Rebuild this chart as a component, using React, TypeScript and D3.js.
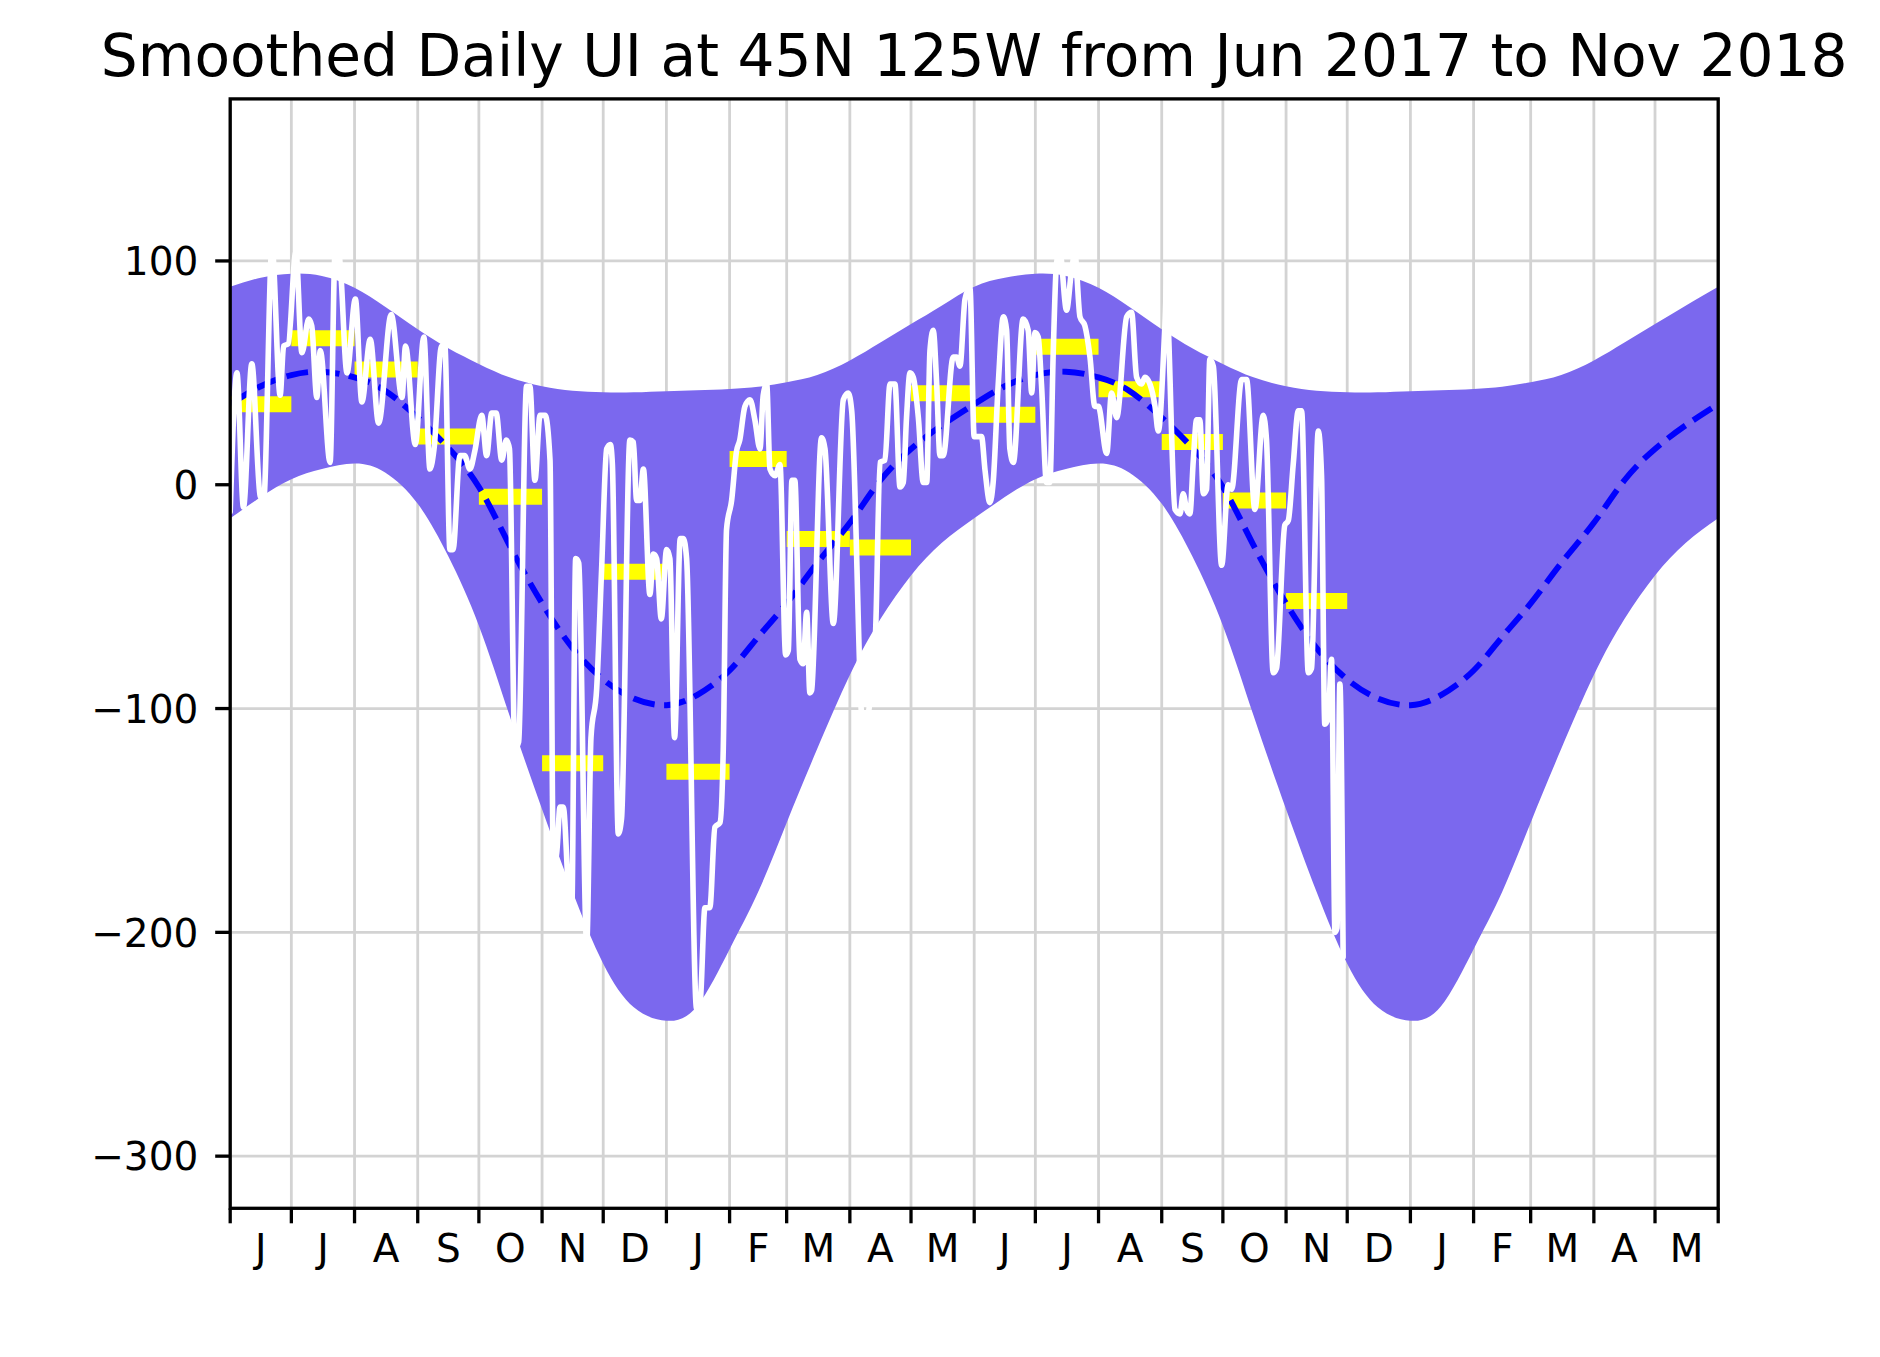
import React from 'react';
import * as d3 from 'd3';

const W = 1880;
const H = 1357;
const PLOT = { left: 230.2, right: 1718.2, top: 98.9, bottom: 1208.3 };

const TITLE = 'Smoothed Daily UI at 45N 125W from Jun 2017 to Nov 2018';
const startDate = new Date(Date.UTC(2017, 5, 1));
const endDate = new Date(Date.UTC(2019, 5, 1));
const seriesEndMonth = new Date(Date.UTC(2018, 11, 1));

// climatology, days from Jun 1
const climDays = [0, 15, 30, 45, 61, 76, 92, 107, 122, 137, 153, 168, 183, 198, 214, 229, 245, 259, 273, 288, 304, 319, 334, 349, 365];
const climUpper = [88.5, 92.5, 94.3, 93.3, 88, 79.5, 69.5, 61, 54, 48, 44, 42, 41.3, 41.3, 41.8, 42.2, 42.8, 43.8, 45.8, 49, 55.5, 63.5, 71.8, 80, 88.5];
const climMean = [36, 44, 49, 50.5, 48, 42, 30, 16.5, -1, -27, -53, -73, -87, -95.5, -98.5, -94, -83, -68, -53, -35, -17, 2, 16, 26.5, 36];
const climLower = [-15, -5.5, 2.5, 7, 9.5, 5.5, -8.5, -32, -63, -103, -145, -182, -214, -233.5, -239.5, -233, -207.5, -182, -151, -118, -85, -60, -40.5, -26, -15];

// monthly means Jun 2017 .. Nov 2018
const monthlyMeans = [36, 65.5, 51.5, 21.5, -5.4, -124.4, -38.9, -128.2, 11.5, -24.3, -28, 40.9, 31.3, 61.7, 42.7, 19.1, -7, -52];

// smoothed daily UI: [day from Jun 1 2017, value]
const uiSeries: [number, number][] = [
  [0, -12], [3.3, 50], [6.5, -10], [10.6, 54], [14.7, -5], [16.4, -7], [20.5, 106], [24.5, 40],
  [26.2, 62], [28.5, 63], [32.2, 104], [35.2, 59], [38.5, 74], [40, 71], [42.5, 39], [44.2, 60],
  [49, 10], [51.5, 104], [53.5, 102], [57.3, 50], [61.4, 83], [64.6, 37], [68.7, 65], [72.8, 27.5],
  [79, 76], [84.3, 39], [86, 62], [90.8, 18], [95, 66], [98, 7], [100, 16], [103.7, 62],
  [105.3, 62], [107.8, -29], [109.3, -29], [112.7, 13], [115, 13], [117.6, 7], [120, 15], [123.4, 31],
  [125.8, 13], [128.3, 32], [130.5, 32], [133.2, 11], [135.5, 20], [137, 16], [139.7, -118], [141.5, -115],
  [145.4, 44], [147, 44], [149.5, 2], [152, 31], [154.5, 31], [156.9, 11], [158.5, -167], [160, -166],
  [161.8, -144], [163.4, -144], [165.9, -180], [167.5, -193], [169.5, -33], [171, -35], [174.9, -205], [177, -113],
  [179.8, -91], [182.2, -38], [184.7, 16], [186.5, 18], [187.5, 9], [190.4, -156], [192, -149], [196.1, 20],
  [197.8, 19], [199.4, -7], [201, -7], [202.7, 7], [205.9, -49], [207.6, -31], [209.2, -33], [211.5, -60],
  [214.1, -29], [215.7, -33], [218, -113], [220.8, -24], [222.3, -24], [223.9, -33], [228.8, -234], [230.5, -232],
  [232.9, -189], [235.3, -189], [237.8, -153], [240.3, -151], [241.9, -118], [243.5, -20], [246, -7], [248.4, 15],
  [250, 20], [252.5, 35], [255, 38], [257.4, 29], [259.9, 16], [261.5, 40], [263.2, 45], [264.8, 7],
  [267.3, 4], [269.7, 9], [272.5, -76], [273.8, -74], [275.6, 2], [277, 2], [279.5, -78], [281.1, -80],
  [282.8, -57], [284.4, -93], [285.2, -92], [290.1, 21], [291.8, 16], [295.9, -62], [300.8, 38], [303.2, 41],
  [304.9, 33], [310.5, -110], [316.5, -68], [318.8, 10], [321.2, 11], [323.7, 45], [326.1, 45], [328.6, -1],
  [330.2, 1], [331.8, 30], [333.5, 50], [335.1, 48], [337.6, 30], [340, 1], [341.7, 1], [343.3, 60],
  [344.9, 69], [346.6, 45], [348.2, 13], [349.8, 13], [354.7, 57], [356.4, 57], [358, 53], [360.5, 83],
  [362.9, 88], [365, 21.5], [368.6, 21.5], [370.3, 6.6], [372.7, -8], [374.3, 1], [376.8, 45], [379.3, 75],
  [380.9, 69], [382.5, 16], [384.2, 10], [389, 74], [391.5, 69], [393.2, 41], [394.8, 68], [396.4, 66],
  [398, 45], [400.5, 1], [402.1, 1], [403.8, 60], [405.4, 99], [407, 104], [410.3, 78], [412.8, 96],
  [414.4, 103], [416.9, 75], [419.3, 71], [421.8, 57], [424.2, 35], [425.9, 35], [430, 14], [432.4, 41],
  [434.9, 30], [439.8, 75], [442.2, 77], [444.7, 48], [447.1, 45], [448.8, 48], [451.2, 45], [453.7, 35],
  [455.3, 24], [458.6, 72], [459.5, 90], [460.5, 64], [463.5, -11], [466, -13], [467.5, -4], [469.2, -11],
  [470.8, -13], [472.5, 11], [474.1, 29], [475.7, 29], [477.4, -4], [479, -2], [480.6, 56], [482.3, 53],
  [486.4, -36], [489.6, 0], [491.3, -2], [496.2, 47], [498.6, 47], [502.7, -11], [506.8, 31], [508.4, 20],
  [511.7, -84], [513.3, -82], [517.4, -18], [519.1, -16], [521.5, 9], [524, 33], [525.6, 33], [528.9, -84],
  [530.5, -82], [533.8, 24], [535.4, 4], [537, -107], [538.7, -104], [540.3, -78], [542, -200], [543, -198],
  [544.4, -89], [546, -211],
];

const yTicks = [-300, -200, -100, 0, 100];
const yDomain = [-323.3, 172.4];

const FONT = 'DejaVu Sans, sans-serif';
const GRID = '#d3d3d3';
const BAND = '#7b68ee';

const dayToDate = (d: number) => new Date(startDate.getTime() + d * 864e5);

export default function App() {
  const x = d3.scaleUtc().domain([startDate, endDate]).range([PLOT.left, PLOT.right]);
  const y = d3.scaleLinear().domain(yDomain).range([PLOT.bottom, PLOT.top]);

  const clim = [0, 1].flatMap((k) =>
    climDays
      .map((d, i) => ({ d: d + 365 * k, u: climUpper[i], m: climMean[i], l: climLower[i] }))
      .filter((_, i) => !(k === 1 && i === 0))
  );

  const band = d3
    .area<{ d: number; u: number; m: number; l: number }>()
    .x((p) => x(dayToDate(p.d)))
    .y0((p) => y(p.l))
    .y1((p) => y(p.u))
    .curve(d3.curveNatural)(clim) as string;

  const meanLine = d3
    .line<{ d: number; m: number }>()
    .x((p) => x(dayToDate(p.d)))
    .y((p) => y(p.m))
    .curve(d3.curveNatural)(clim) as string;

  const uiLine = d3
    .line<[number, number]>()
    .x((p) => x(dayToDate(p[0])))
    .y((p) => y(p[1]))
    .curve(d3.curveMonotoneX)(uiSeries) as string;

  const monthTicks = d3.utcMonth.range(startDate, d3.utcDay.offset(endDate, 1));
  const labelMonths = d3.utcMonth.range(startDate, endDate);
  const barMonths = d3.utcMonth.range(startDate, seriesEndMonth);
  const fmt = d3.utcFormat('%b');

  const tickLen = 15;
  const axisW = 3.3;

  return (
    <svg width={W} height={H} style={{ position: 'absolute', left: 0, top: 0, background: '#fff' }} fontFamily={FONT}>
      <defs>
        <clipPath id="plotclip">
          <rect x={PLOT.left} y={PLOT.top} width={PLOT.right - PLOT.left} height={PLOT.bottom - PLOT.top} />
        </clipPath>
      </defs>
      <rect x={0} y={0} width={W} height={H} fill="#fff" />
      {/* grid */}
      <g stroke={GRID} strokeWidth={2.8}>
        {monthTicks.map((m, i) => (
          <line key={'gx' + i} x1={x(m)} x2={x(m)} y1={PLOT.top} y2={PLOT.bottom} />
        ))}
        {yTicks.map((t) => (
          <line key={'gy' + t} x1={PLOT.left} x2={PLOT.right} y1={y(t)} y2={y(t)} />
        ))}
      </g>
      <g clipPath="url(#plotclip)">
        <path d={band} fill={BAND} stroke="none" />
        <g stroke="#ffff00" strokeWidth={16}>
          {barMonths.map((m, i) => (
            <line key={'b' + i} x1={x(m)} x2={x(d3.utcMonth.offset(m, 1))} y1={y(monthlyMeans[i])} y2={y(monthlyMeans[i])} />
          ))}
        </g>
        <path d={meanLine} fill="none" stroke="#0000ff" strokeWidth={5.9} strokeDasharray="22 9.5" />
        <path d={uiLine} fill="none" stroke="#ffffff" strokeWidth={5.6} strokeLinejoin="round" strokeLinecap="round" />
      </g>
      {/* spines */}
      <rect x={PLOT.left} y={PLOT.top} width={PLOT.right - PLOT.left} height={PLOT.bottom - PLOT.top} fill="none" stroke="#000" strokeWidth={axisW} />
      {/* ticks */}
      <g stroke="#000" strokeWidth={axisW}>
        {monthTicks.map((m, i) => (
          <line key={'tx' + i} x1={x(m)} x2={x(m)} y1={PLOT.bottom} y2={PLOT.bottom + tickLen} />
        ))}
        {yTicks.map((t) => (
          <line key={'ty' + t} x1={PLOT.left - tickLen} x2={PLOT.left} y1={y(t)} y2={y(t)} />
        ))}
      </g>
      <g fontSize={39} fill="#000">
        {labelMonths.map((m, i) => {
          const mid = new Date((m.getTime() + d3.utcMonth.offset(m, 1).getTime()) / 2);
          return (
            <text key={'lx' + i} x={x(mid)} y={1261.7} textAnchor="middle">
              {fmt(m).charAt(0)}
            </text>
          );
        })}
        {yTicks.map((t) => (
          <text key={'ly' + t} x={198.3} y={y(t) + 14.2} textAnchor="end">
            {t < 0 ? '\u2212' + Math.abs(t) : String(t)}
          </text>
        ))}
      </g>
      <text x={(PLOT.left + PLOT.right) / 2} y={76} textAnchor="middle" fontSize={58.2} fill="#000">
        {TITLE}
      </text>
    </svg>
  );
}
